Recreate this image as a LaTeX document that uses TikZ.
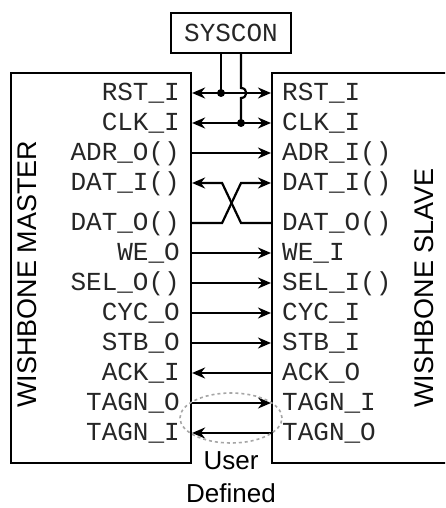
\documentclass[tikz,border=0pt]{standalone}
\usepackage{fontspec}
\newfontfamily\pinfont{Liberation Mono}
\newfontfamily\titlefont{Liberation Sans}
\usetikzlibrary{arrows.meta,positioning,calc,shapes.geometric}

\begin{document}
\begin{tikzpicture}[
  x=1pt,y=-1pt,
  >={Stealth[length=13pt,width=11pt]},
  box/.style={draw,line width=2.2pt,inner sep=0pt},
  mpin/.style={
    anchor=east,inner sep=0pt,text height=15pt,text depth=0pt,
    text=black!85,font=\fontsize{26}{30}\pinfont
  },
  spin/.style={mpin,anchor=west},
  title/.style={rotate=90,anchor=mid west,inner sep=0pt,font=\fontsize{27}{32}\titlefont},
  sig/.style={->,line width=2.2pt},
  dsig/.style={<->,line width=2.2pt},
  wire/.style={line width=2.2pt},
  dot/.style={circle,fill,inner sep=0pt,minimum size=8pt},
  ring/.style={draw=gray!70,dashed,line width=1.6pt,ellipse,inner sep=0pt}
]
  \useasboundingbox (0,0) rectangle (445,508);
  \clip (0,0) rectangle (445,508);

  % the two ends of the bus
  \node[box,minimum width=180pt,minimum height=390pt] (master) at (101,268) {};
  \node[box,minimum width=190pt,minimum height=390pt,anchor=west] (slave) at (271,268) {};
  \node[title] (mtitle) at (34,408) {WISHBONE MASTER};
  \node[title] (stitle) at (431,408) {WISHBONE SLAVE};
  \node[box,minimum width=120pt,minimum height=40pt,text=black!85,font=\fontsize{26}{30}\pinfont]
    (syscon) at (231,33) {SYSCON};

  % master side
  \node[mpin] (m-rst) at (180,93) {RST\_I};
  \node[mpin] (m-clk) at (180,123) {CLK\_I};
  \node[mpin] (m-adr) at (180,153) {ADR\_O()};
  \node[mpin] (m-dati) at (180,183) {DAT\_I()};
  \node[mpin] (m-dato) at (180,223) {DAT\_O()};
  \node[mpin] (m-we) at (180,253) {WE\_O};
  \node[mpin] (m-sel) at (180,283) {SEL\_O()};
  \node[mpin] (m-cyc) at (180,313) {CYC\_O};
  \node[mpin] (m-stb) at (180,343) {STB\_O};
  \node[mpin] (m-ack) at (180,373) {ACK\_I};
  \node[mpin] (m-tagno) at (180,403) {TAGN\_O};
  \node[mpin] (m-tagni) at (180,433) {TAGN\_I};

  % slave side
  \node[spin] (s-rst) at (282,93) {RST\_I};
  \node[spin] (s-clk) at (282,123) {CLK\_I};
  \node[spin] (s-adr) at (282,153) {ADR\_I()};
  \node[spin] (s-dati) at (282,183) {DAT\_I()};
  \node[spin] (s-dato) at (282,223) {DAT\_O()};
  \node[spin] (s-we) at (282,253) {WE\_I};
  \node[spin] (s-sel) at (282,283) {SEL\_I()};
  \node[spin] (s-cyc) at (282,313) {CYC\_I};
  \node[spin] (s-stb) at (282,343) {STB\_I};
  \node[spin] (s-ack) at (282,373) {ACK\_O};
  \node[spin] (s-tagni) at (282,403) {TAGN\_I};
  \node[spin] (s-tagno) at (282,433) {TAGN\_O};

  % signals
  \draw[dsig] (master.east |- m-rst) -- (slave.west |- s-rst);
  \draw[dsig] (master.east |- m-clk) -- (slave.west |- s-clk);
  \draw[sig] (master.east |- m-adr) -- (slave.west |- s-adr);
  \draw[sig] (master.east |- m-dato) -- ++(30,0)
    -- ($(slave.west |- s-dati)+(-30,0)$) -- (slave.west |- s-dati);
  \draw[sig] (slave.west |- s-dato) -- ++(-30,0)
    -- ($(master.east |- m-dati)+(30,0)$) -- (master.east |- m-dati);
  \draw[sig] (master.east |- m-we) -- (slave.west |- s-we);
  \draw[sig] (master.east |- m-sel) -- (slave.west |- s-sel);
  \draw[sig] (master.east |- m-cyc) -- (slave.west |- s-cyc);
  \draw[sig] (master.east |- m-stb) -- (slave.west |- s-stb);
  \draw[sig] (slave.west |- s-ack) -- (master.east |- m-ack);
  \draw[sig] (master.east |- m-tagno) -- (slave.west |- s-tagni);
  \draw[sig] (slave.west |- s-tagno) -- (master.east |- m-tagni);

  % syscon taps
  \coordinate (rtap) at ($(syscon.south)+(-10,0)$);
  \coordinate (ctap) at ($(syscon.south)+(10,0)$);
  \draw[wire] (rtap) -- (rtap |- m-rst) node[dot] {};
  \draw[wire] (ctap) -- ($(ctap |- m-rst)+(0,-5)$)
    .. controls +(7,0) and +(7,0) .. ($(ctap |- m-rst)+(0,5)$)
    -- (ctap |- m-clk) node[dot] {};

  % user defined tags
  \node[ring,minimum width=102pt,minimum height=50pt] (udef) at (231,418) {};
  \node[align=center,inner sep=0pt,font=\fontsize{26}{33}\titlefont]
    (udlabel) at (231,477) {User\\Defined};
\end{tikzpicture}
\end{document}
